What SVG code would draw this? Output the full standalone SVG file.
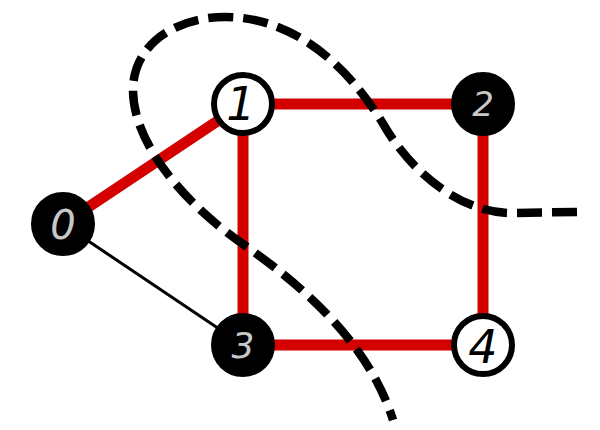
<svg xmlns="http://www.w3.org/2000/svg" width="600" height="430" viewBox="0 0 600 430">
<style>
.red{stroke:#d40000;stroke-width:11;fill:none}
.thin{stroke:#000;stroke-width:3;fill:none}
.cut{stroke:#000;stroke-width:8.5;fill:none;stroke-dasharray:25 10}
.bk{fill:#000;stroke:#000;stroke-width:6}
.wh{fill:#fff;stroke:#000;stroke-width:6}
.lb{font-family:"DejaVu Sans","Liberation Sans",sans-serif;font-style:italic;text-anchor:middle;dominant-baseline:central}
.lg{fill:#c8c8c8}
.ld{fill:#000}
</style>
<rect width="600" height="430" fill="#fff"/>
<g id="connectors">
<line class="red" x1="63" y1="224" x2="243" y2="104"/>
<line class="red" x1="243" y1="104" x2="483" y2="104"/>
<line class="red" x1="243" y1="104" x2="243" y2="345"/>
<line class="red" x1="483" y1="104" x2="483" y2="345"/>
<line class="red" x1="243" y1="345" x2="483" y2="345"/>
<line class="thin" x1="63" y1="224" x2="243" y2="345"/>
</g>
<g id="cut">
<path class="cut" d="M577,212 L510,213 C455,212 408,166 385,127 C345,60 290,17 225,17 C175,17 133,45 133,90 C133,145 187,205 240,242 C306,288 369,344 393,420"/>
</g>
<g id="node0"><circle class="bk" cx="63" cy="224" r="29"/><text class="lb lg" x="63" y="225" font-size="40">0</text></g>
<g id="node1"><circle class="wh" cx="243" cy="104" r="29"/><text class="lb ld" x="241" y="104" font-size="46">1</text></g>
<g id="node2"><circle class="bk" cx="483" cy="104" r="29"/><text class="lb lg" x="483" y="104" font-size="34">2</text></g>
<g id="node3"><circle class="bk" cx="243" cy="345" r="29"/><text class="lb lg" x="243" y="345" font-size="36">3</text></g>
<g id="node4"><circle class="wh" cx="483" cy="345" r="29"/><text class="lb ld" x="483" y="347" font-size="46">4</text></g>
</svg>
